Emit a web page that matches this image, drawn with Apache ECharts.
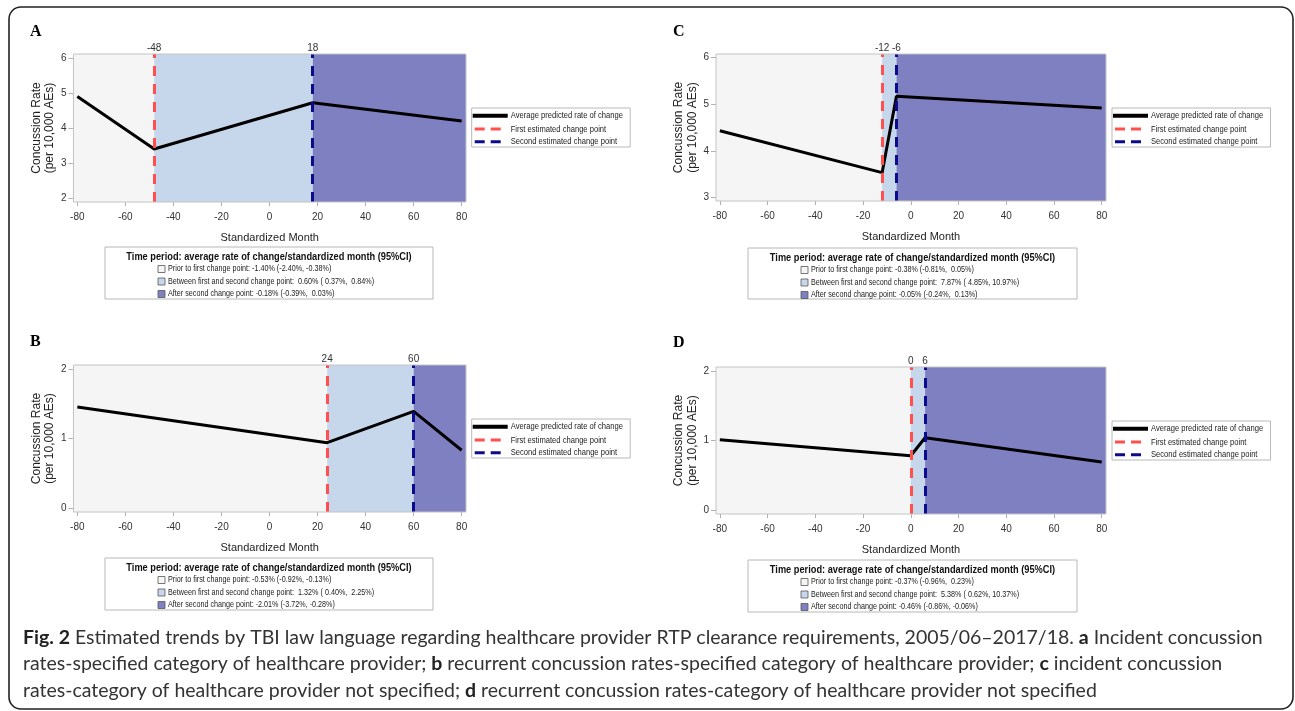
<!DOCTYPE html>
<html><head><meta charset="utf-8">
<script src="https://cdn.jsdelivr.net/npm/echarts@6/dist/echarts.min.js"></script>
<style>html,body{margin:0;padding:0;background:#fff}#c{width:1295px;height:711px}</style>
</head><body><div id="c"></div>
<script>
// ---------- data ----------
const xTicks = [-80, -60, -40, -20, 0, 20, 40, 60, 80];
const yTicksA = [2, 3, 4, 5, 6];
const yTicksB = [0, 1, 2];
const yTicksC = [3, 4, 5, 6];
const yTicksD = [0, 1, 2];

const monthsA = [-80, -48, 18, 80];
const rateA   = [4.9, 3.4, 4.72, 4.2];
const monthsB = [-80, 24, 60, 80];
const rateB   = [1.455, 0.94, 1.39, 0.83];
const monthsC = [-80, -12, -6, 80];
const rateC   = [4.43, 3.53, 5.17, 4.92];
const monthsD = [-80, 0, 6, 80];
const rateD   = [1.01, 0.78, 1.04, 0.69];

const changePointsA = [-48, 18];
const changePointsB = [24, 60];
const changePointsC = [-12, -6];
const changePointsD = [0, 6];

const legendNames = ['Average predicted rate of change', 'First estimated change point', 'Second estimated change point'];
const boxTitle = 'Time period: average rate of change/standardized month (95%CI)';
const periodTextA = ['Prior to first change point: -1.40% (-2.40%, -0.38%)',
  'Between first and second change point:  0.60% ( 0.37%,  0.84%)',
  'After second change point: -0.18% (-0.39%,  0.03%)'];
const periodTextB = ['Prior to first change point: -0.53% (-0.92%, -0.13%)',
  'Between first and second change point:  1.32% ( 0.40%,  2.25%)',
  'After second change point: -2.01% (-3.72%, -0.28%)'];
const periodTextC = ['Prior to first change point: -0.38% (-0.81%,  0.05%)',
  'Between first and second change point:  7.87% ( 4.85%, 10.97%)',
  'After second change point: -0.05% (-0.24%,  0.13%)'];
const periodTextD = ['Prior to first change point: -0.37% (-0.96%,  0.23%)',
  'Between first and second change point:  5.38% ( 0.62%, 10.37%)',
  'After second change point: -0.46% (-0.86%, -0.06%)'];
const xAxisTitle = 'Standardized Month';
const yAxisTitle = 'Concussion Rate\n(per 10,000 AEs)';
const captionLines = [
  '{b|Fig. 2} Estimated trends by TBI law language regarding healthcare provider RTP clearance requirements, 2005/06\u20132017/18. {b|a} Incident concussion',
  'rates-specified category of healthcare provider; {b|b} recurrent concussion rates-specified category of healthcare provider; {b|c} incident concussion',
  'rates-category of healthcare provider not specified; {b|d} recurrent concussion rates-category of healthcare provider not specified'
];

// ---------- layout / style ----------
const NARROW = '"Liberation Sans Narrow","Arial Narrow","Liberation Sans",sans-serif';
const SANS = '"Liberation Sans",Arial,sans-serif';
const CAPFONT = 'Lato, "Open Sans", sans-serif';
const RED = '#ff4f4f', NAVY = '#0b0b8c';
const FILLS = ['#f5f5f5', '#c6d7ec', '#7f80c2'];
const X_MIN = -81.6, X_MAX = 81.8;

const panels = [
  {letter:'A', months:monthsA, rates:rateA, cps:changePointsA, yTicks:yTicksA, yMin:1.886, yMax:6.114,
   grid:{left:73.5, top:54, width:392.5, height:148}, legend:[471.7,108], box:[105,247,328,52], label:[30,32], texts:periodTextA},
  {letter:'B', months:monthsB, rates:rateB, cps:changePointsB, yTicks:yTicksB, yMin:-0.06, yMax:2.06,
   grid:{left:73.5, top:365, width:392.5, height:147}, legend:[471.7,419], box:[105,558,328,52], label:[30,342], texts:periodTextB},
  {letter:'C', months:monthsC, rates:rateC, cps:changePointsC, yTicks:yTicksC, yMin:2.92, yMax:6.08,
   grid:{left:716, top:54, width:390, height:147}, legend:[1112,108], box:[748,248,329,51], label:[673,32], texts:periodTextC},
  {letter:'D', months:monthsD, rates:rateD, cps:changePointsD, yTicks:yTicksD, yMin:-0.06, yMax:2.06,
   grid:{left:716, top:367, width:390, height:147}, legend:[1112,421], box:[748,560,329,52], label:[673,343], texts:periodTextD}
];

const grids = [], xAxes = [], yAxes = [], series = [], graphics = [];

graphics.push({type:'rect', shape:{x:9, y:7, width:1284, height:702, r:12}, style:{fill:'none', stroke:'#222', lineWidth:1.6}, z:0});

panels.forEach((p, i) => {
  grids.push(Object.assign({show:true, borderColor:'#c4c4c4', borderWidth:1, backgroundColor:'transparent', z:10}, p.grid));
  xAxes.push({gridIndex:i, type:'value', min:X_MIN, max:X_MAX,
    axisLine:{show:false, onZero:false},
    axisTick:{show:true, customValues:xTicks, length:4, lineStyle:{color:'#b0b0b0'}},
    axisLabel:{customValues:xTicks, fontFamily:NARROW, fontSize:10, color:'#333', margin:10},
    splitLine:{show:false},
    name:xAxisTitle, nameLocation:'middle', nameGap:30.5,
    nameTextStyle:{fontFamily:NARROW, fontSize:11, color:'#222'}});
  yAxes.push({gridIndex:i, type:'value', min:p.yMin, max:p.yMax,
    axisLine:{show:false, onZero:false},
    axisTick:{show:true, customValues:p.yTicks, length:5, lineStyle:{color:'#b0b0b0'}},
    axisLabel:{customValues:p.yTicks, fontFamily:NARROW, fontSize:10, color:'#333', margin:7},
    splitLine:{show:false},
    name:yAxisTitle, nameLocation:'middle', nameGap:17, nameRotate:90,
    nameTextStyle:{fontFamily:SANS, fontSize:12, lineHeight:13.5, color:'#222'}});
  const pts = p.months.map((m, k) => [m, p.rates[k]]);
  series.push({type:'line', xAxisIndex:i, yAxisIndex:i, data:pts, showSymbol:false, symbol:'none',
    lineStyle:{opacity:0}, silent:true, z:1,
    markArea:{silent:true, data:[
      [{xAxis:X_MIN, itemStyle:{color:FILLS[0]}}, {xAxis:p.cps[0]}],
      [{xAxis:p.cps[0], itemStyle:{color:FILLS[1]}}, {xAxis:p.cps[1]}],
      [{xAxis:p.cps[1], itemStyle:{color:FILLS[2]}}, {xAxis:X_MAX}]
    ]}});
  series.push({type:'line', xAxisIndex:i, yAxisIndex:i, data:pts, showSymbol:false, symbol:'none',
    lineStyle:{opacity:0}, silent:true, z:2,
    markLine:{silent:true, symbol:'none',
      lineStyle:{type:[10,8], width:3},
      label:{show:true, position:'end', formatter:(d)=>String(d.value), fontFamily:NARROW, fontSize:10, color:'#333', distance:1},
      data:[{xAxis:p.cps[0], lineStyle:{color:RED}}, {xAxis:p.cps[1], lineStyle:{color:NAVY}}]}});
  series.push({type:'line', xAxisIndex:i, yAxisIndex:i, data:pts, showSymbol:false, symbol:'none',
    lineStyle:{color:'#000', width:3}, z:3, silent:true});

  // panel letter
  graphics.push({type:'text', x:p.label[0], y:p.label[1], style:{text:p.letter, font:'bold 16px "Liberation Serif",serif', fill:'#000', verticalAlign:'middle', textVerticalAlign:'middle'}});

  // right legend
  const [lx, ly] = p.legend;
  const rows = [7.7, 21, 33.7];
  graphics.push({type:'group', x:lx, y:ly, children:[
    {type:'rect', shape:{x:0, y:0, width:158.5, height:39}, style:{fill:'#fff', stroke:'#b8b8b8', lineWidth:1}},
    {type:'line', shape:{x1:1, y1:rows[0], x2:36, y2:rows[0]}, style:{stroke:'#000', lineWidth:4}},
    {type:'line', shape:{x1:3, y1:rows[1], x2:29, y2:rows[1]}, style:{stroke:RED, lineWidth:3, lineDash:[10,6]}},
    {type:'line', shape:{x1:3, y1:rows[2], x2:29, y2:rows[2]}, style:{stroke:NAVY, lineWidth:3, lineDash:[10,6]}}
  ].concat(legendNames.map((t, k) => ({type:'text', x:39, y:rows[k], scaleX:0.8,
    style:{text:t, font:'9.5px ' + SANS, fill:'#222', verticalAlign:'middle', textVerticalAlign:'middle'}})))});

  // lower box
  const [bx, by, bw, bh] = p.box;
  const brow = [22, 34.5, 47];
  const children = [
    {type:'rect', shape:{x:0, y:0, width:bw, height:bh}, style:{fill:'#fff', stroke:'#b8b8b8', lineWidth:1}},
    {type:'text', x:bw/2, y:9.5, scaleX:0.84, style:{text:boxTitle, font:'bold 11px ' + SANS, fill:'#111',
      align:'center', textAlign:'center', verticalAlign:'middle', textVerticalAlign:'middle'}}
  ];
  p.texts.forEach((t, k) => {
    children.push({type:'rect', shape:{x:53, y:brow[k]-3.5, width:7, height:7}, style:{fill:FILLS[k], stroke:'#555', lineWidth:0.8}});
    children.push({type:'text', x:63, y:brow[k], scaleX:0.8, style:{text:t, font:'9px ' + SANS, fill:'#222', verticalAlign:'middle', textVerticalAlign:'middle'}});
  });
  graphics.push({type:'group', x:bx, y:by, children});
});

// caption
graphics.push({type:'text', x:23, y:624, style:{text:captionLines.join('\n'), fontFamily:CAPFONT, fontSize:19.5,
  fill:'#333', lineHeight:26.7, verticalAlign:'top', textVerticalAlign:'top',
  rich:{b:{fontWeight:'bold', fontFamily:CAPFONT, fontSize:19.5, fill:'#222', lineHeight:26.7}}}});

const chart = echarts.init(document.getElementById('c'), null, {renderer:'canvas'});
chart.setOption({animation:false, backgroundColor:'#fff', grid:grids, xAxis:xAxes, yAxis:yAxes, series, graphic:{elements:graphics}});
</script></body></html>
